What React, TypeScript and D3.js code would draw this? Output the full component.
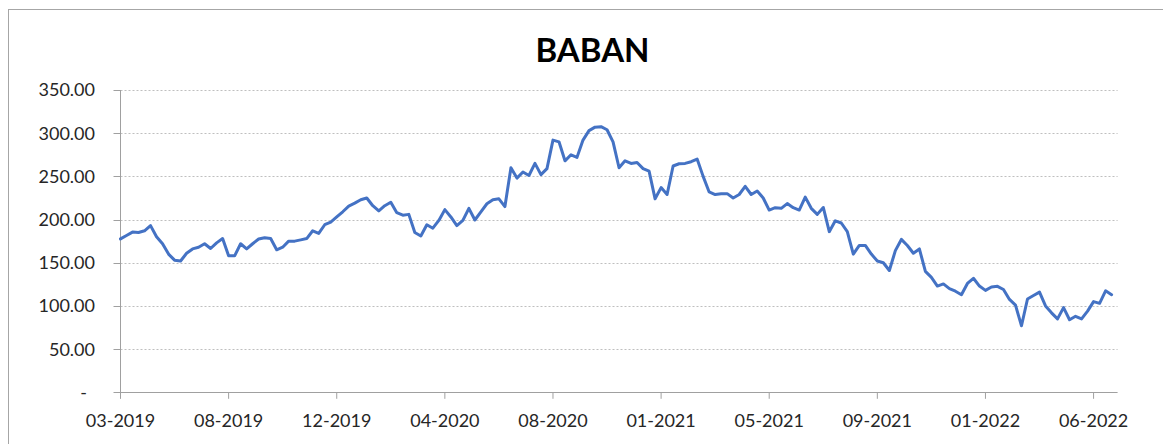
import React from "react";
import * as d3 from "d3";

const title = "BABAN";
const tickLabels = ["03-2019", "08-2019", "12-2019", "04-2020", "08-2020", "01-2021", "05-2021", "09-2021", "01-2022", "06-2022"];
const weeksPerLabel = 18;
const yTicks = [0, 50, 100, 150, 200, 250, 300, 350];
// weekly closing values
const prices = [
  177.6, 181.5, 185.5, 185, 187, 193, 180, 172, 160, 153,
  152, 161, 166, 168, 172, 166.5, 173, 178, 158, 158,
  172, 166, 172, 177.5, 179, 178, 165, 168, 175, 175,
  176.5, 178, 187, 184, 194, 197, 203, 209, 215.6, 219,
  223, 225, 216, 210, 216, 220, 208, 205, 206, 185,
  181, 194, 190, 199, 211.5, 203, 193, 199, 213, 199.5,
  209, 218.3, 223, 224, 215, 260, 248, 255, 251, 265,
  252, 259, 292, 290, 268, 275, 272, 292, 303, 307,
  307.5, 304, 290, 260, 268, 265, 266, 259, 256, 224,
  237, 229, 262, 264.6, 265, 267, 270, 250, 232, 229,
  230, 230, 225, 229, 238.5, 229, 233, 225, 211, 213.7,
  213, 218.5, 213.7, 211, 226, 213, 206, 214, 186, 198.5,
  196, 186, 160, 170, 170, 160, 152, 150, 141, 164,
  177, 170, 161, 166, 140, 133, 123, 125.5, 120, 117,
  113, 126, 132, 123, 118, 122, 122.7, 119, 107.5, 101,
  77, 108, 112, 116, 100, 92, 85, 98, 84, 88,
  85, 94, 105, 103, 117.5, 113,
];

const W = 1163;
const H = 444;
const left = 120.5;
const right = 1117.6;
const top = 90;
const bottom = 392.3;
const font = "Lato, 'Open Sans', sans-serif";

export default function App() {
  const x = d3.scaleLinear().domain([0, 166]).range([left, right]);
  const y = d3.scaleLinear().domain([0, 350]).range([bottom, top]);
  const line = d3
    .line<number>()
    .x((_, i) => x(i))
    .y((d) => y(d))
    .curve(d3.curveLinear);
  const fmt = d3.format(",.2f");

  return (
    <svg width={W} height={H} style={{ position: "absolute", left: 0, top: 0, background: "#fff" }}>
      <rect x={8.5} y={9.5} width={W} height={H} fill="#fff" stroke="#A6A6A6" strokeWidth={1} />
      <text x={592.5} y={62} textAnchor="middle" fontFamily={font} fontWeight={700} fontSize={33} fill="#000">
        {title}
      </text>
      {yTicks.map((t) => (
        <g key={t}>
          {t > 0 && (
            <line x1={left} x2={right} y1={Math.round(y(t)) + 0.5} y2={Math.round(y(t)) + 0.5} stroke="#BFBFBF" strokeDasharray="2,2" strokeWidth={1} />
          )}
          <line x1={left - 7} x2={left} y1={Math.round(y(t)) + 0.5} y2={Math.round(y(t)) + 0.5} stroke="#A0A0A0" />
          <text
            x={t === 0 ? 87 : 95}
            y={y(t)}
            dy="0.36em"
            textAnchor="end"
            fontFamily={font}
            fontSize={18}
            fill="#262626"
          >
            {t === 0 ? "-" : fmt(t)}
          </text>
        </g>
      ))}
      <line x1={left} x2={left} y1={top} y2={bottom + 6} stroke="#A0A0A0" />
      <line x1={left} x2={right} y1={Math.round(bottom) + 0.5} y2={Math.round(bottom) + 0.5} stroke="#A0A0A0" />
      {tickLabels.map((lab, k) => {
        const xx = x(k * weeksPerLabel);
        return (
          <g key={lab}>
            <line x1={xx} x2={xx} y1={bottom} y2={bottom + 6.5} stroke="#A0A0A0" />
            <text x={xx} y={426.5} textAnchor="middle" fontFamily={font} fontSize={18} fill="#262626">
              {lab}
            </text>
          </g>
        );
      })}
      <path d={line(prices) || ""} fill="none" stroke="#4472C4" strokeWidth={3} strokeLinejoin="round" strokeLinecap="round" />
    </svg>
  );
}
